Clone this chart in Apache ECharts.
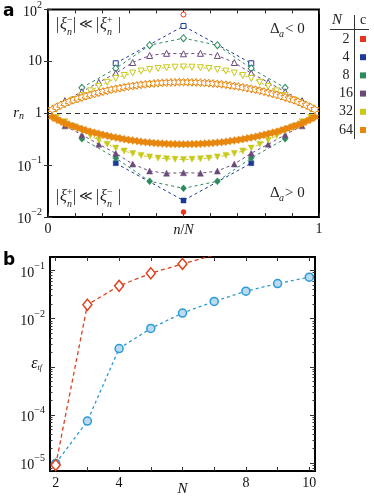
<!DOCTYPE html>
<html><head><meta charset="utf-8">
<script src="https://cdn.jsdelivr.net/npm/echarts@6/dist/echarts.min.js"></script>
<style>html,body{margin:0;padding:0;background:#fff}#c{width:374px;height:498px}</style>
</head><body><div id="c"></div>
<script>
// ---------------- DATA: panel a (r_n vs n/N) ----------------
const groupN = [2, 4, 8, 16, 32, 64];
// upper branch (Delta_a < 0), n = 1..N-1
const upperN2 = [80];
const upperN4 = [9.2, 48, 9.2];
const upperN8 = [3.1, 7.3, 20.5, 28, 20.5, 7.3, 3.1];
const upperN16 = [1.75, 2.6, 3.95, 5.9, 9.5, 13.0, 14.3, 14.0, 14.3, 13.0, 9.5, 5.9, 3.95, 2.6, 1.75];
const upperN32 = [1.2, 1.46, 1.8, 2.2, 2.7, 3.3, 3.95, 4.7, 5.35, 5.95, 6.5, 6.95, 7.3, 7.55, 7.72, 7.8,
  7.72, 7.55, 7.3, 6.95, 6.5, 5.95, 5.35, 4.7, 3.95, 3.3, 2.7, 2.2, 1.8, 1.46, 1.2];
const upperN64 = [1.18, 1.31, 1.43, 1.55, 1.67, 1.79, 1.90, 2.02, 2.14, 2.26, 2.37, 2.49, 2.61, 2.72, 2.84, 2.95,
  3.05, 3.16, 3.26, 3.35, 3.44, 3.53, 3.61, 3.68, 3.74, 3.80, 3.85, 3.89, 3.92, 3.94, 3.96, 3.96,
  3.96, 3.94, 3.92, 3.89, 3.85, 3.80, 3.74, 3.68, 3.61, 3.53, 3.44, 3.35, 3.26, 3.16, 3.05, 2.95,
  2.84, 2.72, 2.61, 2.49, 2.37, 2.26, 2.14, 2.02, 1.90, 1.79, 1.67, 1.55, 1.43, 1.31, 1.18];
// lower branch (Delta_a > 0), n = 1..N-1
const lowerN2 = [0.0125];
const lowerN4 = [0.109, 0.0208, 0.109];
const lowerN8 = [0.323, 0.137, 0.0488, 0.0357, 0.0488, 0.137, 0.323];
const lowerN16 = [0.571, 0.385, 0.253, 0.169, 0.105, 0.0769, 0.0699, 0.0714, 0.0699, 0.0769, 0.105, 0.169, 0.253, 0.385, 0.571];
const lowerN32 = [0.833, 0.685, 0.556, 0.455, 0.370, 0.303, 0.253, 0.213, 0.187, 0.168, 0.154, 0.144, 0.137, 0.132, 0.130, 0.128,
  0.130, 0.132, 0.137, 0.144, 0.154, 0.168, 0.187, 0.213, 0.253, 0.303, 0.370, 0.455, 0.556, 0.685, 0.833];
const lowerN64 = [0.847, 0.763, 0.699, 0.645, 0.599, 0.559, 0.526, 0.495, 0.467, 0.442, 0.422, 0.402, 0.383, 0.368, 0.352, 0.339,
  0.328, 0.316, 0.307, 0.299, 0.291, 0.283, 0.277, 0.272, 0.267, 0.263, 0.260, 0.257, 0.255, 0.254, 0.253, 0.253,
  0.253, 0.254, 0.255, 0.257, 0.260, 0.263, 0.267, 0.272, 0.277, 0.283, 0.291, 0.299, 0.307, 0.316, 0.328, 0.339,
  0.352, 0.368, 0.383, 0.402, 0.422, 0.442, 0.467, 0.495, 0.526, 0.559, 0.599, 0.645, 0.699, 0.763, 0.847];
const aYTicks = [0.01, 0.1, 1, 10, 100];
const aXTickLabels = [0, 1];

// ---------------- DATA: panel b (eps vs N) ----------------
const bNBlue = [2, 3, 4, 5, 6, 7, 8, 9, 10];
const epsBlue = [0.99e-5, 7.5e-5, 2.4e-3, 6.3e-3, 0.0131, 0.0228, 0.0373, 0.0536, 0.0728];
const bNRed = [2, 3, 4, 5, 6, 7];
const epsRed = [0.92e-5, 0.0195, 0.0481, 0.088, 0.137, 0.21];
const bYTicks = [1e-5, 1e-4, 1e-3, 1e-2, 1e-1];
const bYTickLabels = [1e-5, 1e-4, 1e-2, 1e-1];
const bXTicks = [2, 3, 4, 5, 6, 7, 8, 9, 10];
const bXTickLabels = [2, 4, 8, 10];

// ---------------- STYLE ----------------
const FONT = 'Liberation Serif';
const groupColors = ['#e8341c', '#1b3a93', '#2c8a5c', '#6b4a7a', '#c9c81c', '#e8870e'];
const STAR = 'path://M0,-10 L2.9,-5 L8.66,-5 L5.8,0 L8.66,5 L2.9,5 L0,10 L-2.9,5 L-8.66,5 L-5.8,0 L-8.66,-5 L-2.9,-5 Z';
const gSymbols = ['circle', 'rect', 'diamond', 'triangle', 'triangle', STAR];
const gRotate = [0, 0, 0, 0, 180, 0];
const gSize = [5, 5, [6, 7], 6, 6, 8];
const upperAll = [upperN2, upperN4, upperN8, upperN16, upperN32, upperN64];
const lowerAll = [lowerN2, lowerN4, lowerN8, lowerN16, lowerN32, lowerN64];

const bRed = '#e0401c', bBlue = '#2b9ad6', bBlueFill = '#bcdaf0';

const chart = echarts.init(document.getElementById('c'), null, {renderer: 'canvas'});

function pts(N, vals) { return vals.map((v, i) => [(i + 1) / N, v]); }
function powLabel(v) {
  const e = Math.round(Math.log10(v));
  if (e === 0) return '1';
  if (e === 1) return '10';
  return '{b|10}{s|' + (e < 0 ? '\u2212' + (-e) : e) + '}';
}
const powRich = {
  b: {fontSize: 14, fontFamily: FONT, color: '#111', padding: [5, 0, 0, 0]},
  s: {fontSize: 10, fontFamily: FONT, color: '#111', verticalAlign: 'top'}
};

const series = [];
groupN.forEach((N, i) => {
  const c = groupColors[i];
  series.push({
    type: 'line', xAxisIndex: 0, yAxisIndex: 0, data: pts(N, upperAll[i]),
    symbol: gSymbols[i], symbolSize: gSize[i], symbolRotate: gRotate[i],
    itemStyle: {color: '#fff', borderColor: c, borderWidth: 1},
    lineStyle: {color: c, width: 1, type: [3, 3]}, z: 3 + i, animation: false,
    markLine: i === 0 ? {silent: true, symbol: 'none', label: {show: false},
      lineStyle: {color: '#333', width: 1, type: [5, 4]}, data: [{yAxis: 1}]} : undefined
  });
  series.push({
    type: 'line', xAxisIndex: 0, yAxisIndex: 0, data: pts(N, lowerAll[i]),
    symbol: gSymbols[i], symbolSize: gSize[i], symbolRotate: gRotate[i],
    itemStyle: {color: c, borderColor: c, borderWidth: 0.5},
    lineStyle: {color: c, width: 1, type: [3, 3]}, z: 3 + i, animation: false
  });
});
series.push({
  type: 'line', xAxisIndex: 2, yAxisIndex: 2, data: bNBlue.map((n, i) => [n, epsBlue[i]]),
  symbol: 'circle', symbolSize: 8, clip: true,
  itemStyle: {color: bBlueFill, borderColor: bBlue, borderWidth: 1.5},
  lineStyle: {color: bBlue, width: 1.3, type: [3, 3]}, animation: false
});
series.push({
  type: 'line', xAxisIndex: 2, yAxisIndex: 2, data: bNRed.map((n, i) => [n, epsRed[i]]),
  symbol: 'diamond', symbolSize: [9, 11], clip: true,
  itemStyle: {color: '#fff', borderColor: bRed, borderWidth: 1.5},
  lineStyle: {color: bRed, width: 1.3, type: [4, 3]}, animation: false
});

const bMinor = [];
for (let d = -6; d <= -1; d++) for (let k = 2; k <= 9; k++) bMinor.push(k * Math.pow(10, d));
const bMin = Math.pow(10, -5.161), bMax = Math.pow(10, -0.719);

const tick = (len, vals) => ({show: true, inside: true, length: len, lineStyle: {color: '#333', width: 1}, customValues: vals});
const noLine = {show: false};
const labStyle = {fontFamily: FONT, fontSize: 14, color: '#111'};

const option = {
  animation: false,
  backgroundColor: '#fff',
  grid: [
    {left: 48, top: 9, width: 271, height: 208, show: true, borderColor: '#000', borderWidth: 2, backgroundColor: 'transparent'},
    {left: 50, top: 257, width: 265, height: 215, show: true, borderColor: '#000', borderWidth: 2, backgroundColor: 'transparent'}
  ],
  xAxis: [
    {gridIndex: 0, type: 'value', min: 0, max: 1, interval: 0.1, position: 'bottom', axisLine: noLine, splitLine: noLine,
      axisTick: {show: true, inside: true, length: 4, lineStyle: {color: '#333'}},
      axisLabel: Object.assign({customValues: aXTickLabels, margin: 5, formatter: v => String(v)}, labStyle),
      name: '{i|n}{n|/}{i|N}', nameLocation: 'middle', nameGap: 6, nameMoveOverlap: false,
      nameTextStyle: {rich: {i: {fontFamily: FONT, fontSize: 14, fontStyle: 'italic', color: '#111'}, n: {fontFamily: FONT, fontSize: 14, color: '#111'}}}},
    {gridIndex: 0, type: 'value', min: 0, max: 1, interval: 0.1, position: 'top', axisLine: noLine, splitLine: noLine,
      axisTick: {show: true, inside: true, length: 4, lineStyle: {color: '#333'}}, axisLabel: {show: false}},
    {gridIndex: 1, type: 'value', min: 1.82, max: 10.18, position: 'bottom', axisLine: noLine, splitLine: noLine,
      axisTick: tick(4, bXTicks),
      axisLabel: Object.assign({customValues: bXTickLabels, margin: 5, formatter: v => String(v)}, labStyle),
      name: 'N', nameLocation: 'middle', nameGap: 11, nameMoveOverlap: false,
      nameTextStyle: {fontFamily: FONT, fontSize: 15, fontStyle: 'italic', color: '#111'}},
    {gridIndex: 1, type: 'value', min: 1.82, max: 10.18, position: 'top', axisLine: noLine, splitLine: noLine,
      axisTick: tick(4, bXTicks), axisLabel: {show: false}}
  ],
  yAxis: [
    {gridIndex: 0, type: 'log', min: 0.01, max: 100, position: 'left', axisLine: noLine, splitLine: noLine,
      axisTick: tick(4, aYTicks),
      axisLabel: Object.assign({customValues: aYTicks, margin: 6, formatter: powLabel, rich: powRich}, labStyle),
      name: '{i|r}{s|n}', nameLocation: 'middle', nameRotate: 0, nameGap: 24, nameMoveOverlap: false,
      nameTextStyle: {rich: {i: {fontFamily: FONT, fontSize: 15, fontStyle: 'italic', color: '#111'},
        s: {fontFamily: FONT, fontSize: 10, fontStyle: 'italic', color: '#111', verticalAlign: 'bottom', padding: [6, 0, 0, 0]}}}},
    {gridIndex: 0, type: 'log', min: 0.01, max: 100, position: 'right', axisLine: noLine, splitLine: noLine,
      axisTick: tick(4, aYTicks), axisLabel: {show: false}},
    {gridIndex: 1, type: 'log', min: bMin, max: bMax, position: 'left', axisLine: noLine, splitLine: noLine,
      axisTick: tick(5, bYTicks),
      axisLabel: Object.assign({customValues: bYTickLabels, margin: 5, formatter: powLabel, rich: powRich}, labStyle),
      name: '{i|ε}{s|tf}', nameLocation: 'middle', nameRotate: 0, nameGap: 8, nameMoveOverlap: false,
      nameTextStyle: {rich: {i: {fontFamily: FONT, fontSize: 16, fontStyle: 'italic', color: '#111'},
        s: {fontFamily: FONT, fontSize: 8, fontStyle: 'italic', color: '#111', verticalAlign: 'bottom', padding: [7, 0, 0, 0]}}}},
    {gridIndex: 1, type: 'log', min: bMin, max: bMax, position: 'left', axisLine: noLine, splitLine: noLine,
      axisTick: tick(2.5, bMinor), axisLabel: {show: false}},
    {gridIndex: 1, type: 'log', min: bMin, max: bMax, position: 'right', axisLine: noLine, splitLine: noLine,
      axisTick: tick(5, bYTicks), axisLabel: {show: false}},
    {gridIndex: 1, type: 'log', min: bMin, max: bMax, position: 'right', axisLine: noLine, splitLine: noLine,
      axisTick: tick(2.5, bMinor), axisLabel: {show: false}}
  ],
  series: series,
  graphic: []
};

// ---------- annotations ----------
function T(x, y, text, size, opts) {
  opts = opts || {};
  return {type: 'text', x: x, y: y, z: 100, silent: true,
    style: {text: text, fontFamily: opts.family || FONT, fontSize: size, fontStyle: opts.italic ? 'italic' : 'normal',
      fontWeight: opts.bold ? 'bold' : 'normal', fill: opts.fill || '#222', align: opts.align || 'left', verticalAlign: 'middle'}};
}
function xiAnno(x0, yc, s1, s2) {
  return [
    T(x0, yc, '|', 16), T(x0 + 4, yc, 'ξ', 16, {italic: true}),
    T(x0 + 11, yc - 5, s1, 10), T(x0 + 11, yc + 7, 'n', 10, {italic: true}),
    T(x0 + 17, yc, '|', 16), T(x0 + 30, yc, '≪', 13, {align: 'center', family: 'DejaVu Serif'}),
    T(x0 + 40, yc, '|', 16), T(x0 + 44, yc, 'ξ', 16, {italic: true}),
    T(x0 + 51, yc - 5, s2, 10), T(x0 + 51, yc + 7, 'n', 10, {italic: true}),
    T(x0 + 62, yc, '|', 16)
  ];
}
function deltaAnno(x0, yc, rel) {
  return [
    T(x0, yc, 'Δ', 15), T(x0 + 9, yc + 5, 'a', 10, {italic: true}),
    T(x0 + 15, yc, rel + ' 0', 15)
  ];
}
let g = [];
g.push(T(3, 12, 'a', 17, {bold: true, family: 'DejaVu Sans', fill: '#000'}));
g.push(T(3, 261, 'b', 17, {bold: true, family: 'DejaVu Sans', fill: '#000'}));
g = g.concat(xiAnno(56, 25, '\u2212', '+'));
g = g.concat(xiAnno(56, 197, '+', '\u2212'));
g = g.concat(deltaAnno(270, 29, '<'));
g = g.concat(deltaAnno(270, 193, '>'));
// legend table
g.push(T(337, 20, 'N', 15, {italic: true, align: 'center'}));
g.push(T(363, 20, 'c', 14, {align: 'center'}));
g.push({type: 'line', silent: true, shape: {x1: 330, y1: 29.5, x2: 369, y2: 29.5}, style: {stroke: '#333', lineWidth: 1}});
g.push({type: 'line', silent: true, shape: {x1: 354.5, y1: 15, x2: 354.5, y2: 139}, style: {stroke: '#333', lineWidth: 1}});
groupN.forEach((N, i) => {
  const y = 39 + i * 18.2;
  g.push(T(346, y, String(N), 14, {align: 'center'}));
  g.push({type: 'rect', silent: true, shape: {x: 360, y: y - 3, width: 6, height: 6}, style: {fill: groupColors[i]}});
});
option.graphic = g;
chart.setOption(option);
</script></body></html>
